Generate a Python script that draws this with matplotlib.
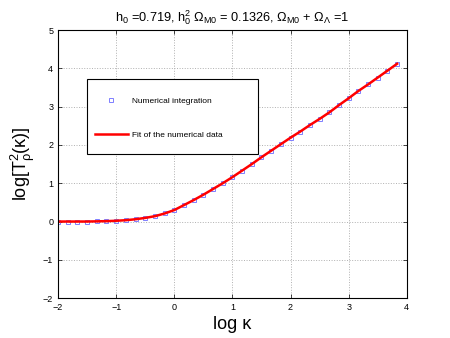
import matplotlib
matplotlib.use("Agg")
import matplotlib.pyplot as plt
from matplotlib.patches import Rectangle

plt.rcParams['font.family'] = ['Liberation Sans', 'DejaVu Sans']
plt.rcParams['mathtext.fontset'] = 'custom'
plt.rcParams['mathtext.rm'] = 'Liberation Sans'
plt.rcParams['mathtext.it'] = 'Liberation Sans'
plt.rcParams['mathtext.bf'] = 'Liberation Sans:bold'

# log kappa sampled every 1/6
log_k = [-2.0, -1.833, -1.667, -1.5, -1.333, -1.167, -1.0, -0.833, -0.667,
         -0.5, -0.333, -0.167, 0.0, 0.167, 0.333, 0.5, 0.667, 0.833,
         1.0, 1.167, 1.333, 1.5, 1.667, 1.833, 2.0, 2.167, 2.333, 2.5,
         2.667, 2.833, 3.0, 3.167, 3.333, 3.5, 3.667, 3.833]
log_T2 = [0.0, 0.0, 0.0, 0.0, 0.005, 0.01, 0.02, 0.035, 0.06,
          0.095, 0.14, 0.21, 0.3, 0.43, 0.56, 0.70, 0.85, 1.0,
          1.16, 1.33, 1.5, 1.68, 1.85, 2.02, 2.19, 2.35, 2.52, 2.68,
          2.85, 3.04, 3.22, 3.41, 3.58, 3.76, 3.94, 4.12]
fit_T2 = log_T2

fig = plt.figure(figsize=(4.5, 3.38), dpi=100)
ax = fig.add_axes([0.129, 0.118, 0.775, 0.793])

ax.plot(log_k, log_T2, 's', markersize=3.5, markerfacecolor='none',
        markeredgecolor='#7f7fff', markeredgewidth=0.7, label='Numerical integration')
ax.plot(log_k, fit_T2, color='red', linewidth=1.8, label='Fit of the numerical data')

ax.set_xlim(-2, 4)
ax.set_ylim(-2, 5)
ax.set_xticks(range(-2, 5))
ax.set_yticks(range(-2, 6))
ax.grid(True, linestyle=':', color='#b0b0b0', linewidth=0.7)
ax.tick_params(direction='in', top=True, right=True, labelsize=6.5, length=3, width=0.5)
for s in ax.spines.values():
    s.set_linewidth(0.8)

ax.set_title(r'h$_0$ =0.719, h$_0^2$ $\Omega_{M0}$ = 0.1326, $\Omega_{M0}$ + $\Omega_\Lambda$ =1',
             fontsize=9.2, pad=6)
ax.set_xlabel('log κ', fontsize=13, labelpad=3)
ax.set_ylabel(r'$\mathrm{log[T}_{ρ}^{2}\mathrm{(κ)]}$', fontsize=13, labelpad=4)

# matlab-like legend box with wide margins
ax.add_patch(Rectangle((0.083, 0.537), 0.491, 0.28, transform=ax.transAxes,
                       facecolor='white', edgecolor='black', linewidth=0.8, zorder=4))
leg = ax.legend(loc='upper left', bbox_to_anchor=(0.105, 0.75), fontsize=6,
                frameon=False, borderpad=0, labelspacing=3.1, handlelength=4.0,
                handletextpad=0.5, borderaxespad=0)
leg.set_zorder(5)

fig.savefig('out.png', dpi=100)
